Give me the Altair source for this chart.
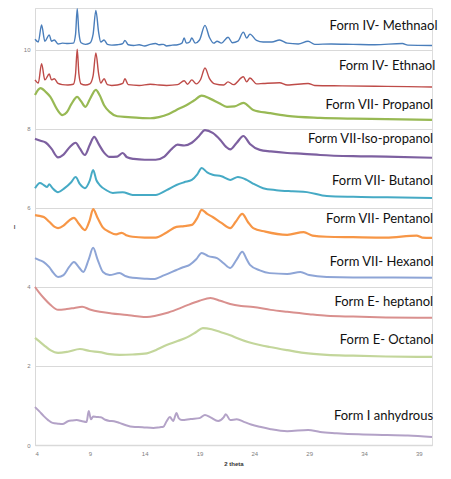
import altair as alt
import pandas as pd

# ---------------- data ----------------
meth_x = [4.0, 4.3, 4.6, 4.9, 5.3, 5.5, 5.76, 6.1, 6.5, 7.0, 7.5, 7.7, 7.85, 8.0, 8.2, 8.6, 9.0, 9.3, 9.55, 9.8,
          10.0, 10.3, 10.6, 11.0, 11.5, 12.0, 12.2, 12.5, 13.0, 13.5, 14.0, 14.5, 15.0, 15.3, 15.7, 16.0, 16.5,
          17.0, 17.4, 17.6, 17.8, 18.1, 18.3, 18.6, 19.0, 19.5, 19.9, 20.3, 20.6, 21.0, 21.6, 22.0, 22.5, 23.0,
          23.3, 23.6, 24.2, 24.8, 25.6, 26.3, 27.0, 28.0, 28.9, 29.5, 31.0, 33.0, 35.0, 37.5, 38.0, 40.2]
meth_y = [10.27, 10.2, 10.63, 10.22, 10.38, 10.22, 10.25, 10.15, 10.17, 10.16, 10.17, 10.4, 11.04, 10.45, 10.18,
          10.14, 10.17, 10.4, 11.0, 10.45, 10.2, 10.25, 10.14, 10.12, 10.13, 10.16, 10.24, 10.13, 10.11, 10.13,
          10.1, 10.14, 10.16, 10.13, 10.14, 10.1, 10.12, 10.13, 10.17, 10.3, 10.17, 10.2, 10.3, 10.17, 10.25,
          10.62, 10.32, 10.17, 10.22, 10.17, 10.32, 10.18, 10.22, 10.45, 10.3, 10.4, 10.24, 10.2, 10.2, 10.25,
          10.17, 10.15, 10.22, 10.14, 10.15, 10.14, 10.13, 10.16, 10.12, 10.11]

eth_x = [4.0, 4.3, 4.6, 4.9, 5.3, 5.5, 5.76, 6.1, 6.5, 7.0, 7.5, 7.7, 7.85, 8.0, 8.2, 8.6, 9.0, 9.3, 9.55, 9.8,
         10.0, 10.3, 10.6, 11.0, 11.5, 12.0, 12.2, 12.5, 13.5, 14.5, 15.0, 16.0, 17.0, 17.6, 17.9, 18.3, 18.7,
         19.1, 19.5, 19.9, 20.4, 21.2, 21.6, 22.1, 23.0, 23.3, 23.6, 24.2, 24.8, 26.3, 27.0, 28.9, 29.5, 32.0,
         35.0, 38.0, 40.2]
eth_y = [9.24, 9.16, 9.65, 9.24, 9.39, 9.24, 9.27, 9.15, 9.12, 9.11, 9.13, 9.4, 10.02, 9.4, 9.14, 9.11, 9.14, 9.35,
         9.92, 9.4, 9.16, 9.27, 9.12, 9.1, 9.11, 9.15, 9.27, 9.12, 9.1, 9.13, 9.12, 9.1, 9.12, 9.22, 9.13, 9.24,
         9.14, 9.25, 9.54, 9.28, 9.14, 9.11, 9.19, 9.12, 9.32, 9.19, 9.29, 9.14, 9.15, 9.17, 9.11, 9.15, 9.1,
         9.09, 9.08, 9.07, 9.06]

prop_x = [4.0, 4.5, 5.0, 5.4, 6.0, 6.5, 6.9, 7.3, 7.85, 8.2, 8.6, 9.0, 9.55, 9.9, 10.3, 10.8, 11.5, 12.5, 13.5, 14.5,
          15.3, 16.2, 16.9, 17.8, 18.5, 19.2, 20.0, 20.8, 21.5, 22.2, 23.0, 23.9, 25.4, 27.0, 30.0, 33.0, 36.0, 40.2]
prop_y = [8.86, 9.03, 8.93, 8.81, 8.5, 8.35, 8.42, 8.62, 8.81, 8.7, 8.56, 8.75, 8.99, 8.85, 8.6, 8.43, 8.32, 8.3,
          8.28, 8.27, 8.3, 8.38, 8.48, 8.6, 8.72, 8.84, 8.76, 8.65, 8.56, 8.57, 8.66, 8.48, 8.4, 8.33, 8.28, 8.26,
          8.25, 8.23]

iso_x = [4.0, 4.5, 5.0, 5.5, 6.1, 6.6, 7.2, 7.7, 8.1, 8.55, 9.0, 9.4, 9.8, 10.3, 10.8, 11.5, 12.0, 12.4, 13.0, 14.0,
         15.0, 15.8, 16.5, 17.0, 17.6, 18.3, 18.9, 19.5, 20.2, 20.9, 21.4, 21.8, 22.4, 23.0, 23.6, 24.5, 25.5, 27.0,
         28.5, 30.0, 33.0, 36.0, 40.2]
iso_y = [7.75, 7.7, 7.65, 7.5, 7.28, 7.35, 7.55, 7.65, 7.5, 7.34, 7.6, 7.8, 7.62, 7.4, 7.29, 7.3, 7.39, 7.28, 7.24,
         7.22, 7.22, 7.3, 7.5, 7.6, 7.58, 7.65, 7.8, 7.97, 7.9, 7.72, 7.55, 7.48, 7.65, 7.82, 7.62, 7.47, 7.43,
         7.39, 7.37, 7.34, 7.31, 7.3, 7.27]

but_x = [4.0, 4.45, 4.8, 5.1, 5.3, 5.6, 6.1, 6.7, 7.3, 7.7, 8.1, 8.55, 9.0, 9.3, 9.6, 9.9, 10.5, 11.1, 12.0, 12.9,
         14.0, 15.0, 16.0, 16.9, 17.6, 18.3, 18.8, 19.2, 19.7, 20.2, 21.0, 21.8, 22.5, 23.3, 24.0, 24.8, 26.0,
         27.5, 28.8, 30.6, 33.0, 36.0, 40.2]
but_y = [6.5, 6.63, 6.58, 6.53, 6.6, 6.5, 6.4, 6.5, 6.65, 6.78, 6.6, 6.5, 6.7, 6.96, 6.7, 6.58, 6.45, 6.38, 6.4,
         6.33, 6.33, 6.33, 6.45, 6.58, 6.65, 6.71, 6.85, 7.01, 6.9, 6.84, 6.8, 6.71, 6.78, 6.71, 6.6, 6.5, 6.45,
         6.42, 6.4, 6.3, 6.28, 6.27, 6.25]

pent_x = [4.0, 4.4, 4.8, 5.3, 5.8, 6.1, 6.6, 7.1, 7.55, 8.0, 8.55, 9.0, 9.3, 9.7, 10.2, 10.8, 11.4, 11.9, 12.4,
          12.9, 14.0, 15.0, 16.0, 16.9, 17.6, 18.3, 18.8, 19.2, 19.7, 20.2, 21.0, 21.8, 22.3, 22.9, 23.4, 23.9,
          25.0, 27.0, 28.5, 29.3, 30.6, 33.0, 36.0, 38.8, 39.3, 40.2]
pent_y = [5.82, 5.8, 5.77, 5.65, 5.52, 5.49, 5.55, 5.68, 5.75, 5.6, 5.44, 5.7, 5.97, 5.75, 5.5, 5.39, 5.33, 5.37,
          5.3, 5.27, 5.25, 5.25, 5.38, 5.52, 5.54, 5.57, 5.75, 5.95, 5.85, 5.77, 5.62, 5.49, 5.65, 5.85, 5.65,
          5.49, 5.4, 5.32, 5.39, 5.3, 5.27, 5.26, 5.25, 5.3, 5.25, 5.24]

hex_x = [4.0, 4.4, 4.8, 5.3, 5.7, 6.1, 6.6, 7.1, 7.55, 8.0, 8.4, 8.9, 9.3, 9.7, 10.2, 10.8, 11.7, 12.3, 12.9, 14.0,
         14.8, 15.8, 16.9, 17.5, 18.1, 18.7, 19.2, 19.8, 20.6, 21.2, 21.8, 22.4, 22.9, 23.3, 23.6, 24.5, 25.4,
         27.0, 28.2, 29.0, 30.6, 33.0, 36.0, 40.2]
hex_y = [4.73, 4.68, 4.63, 4.5, 4.35, 4.25, 4.3, 4.5, 4.63, 4.5, 4.38, 4.7, 4.99, 4.7, 4.38, 4.3, 4.35, 4.27, 4.23,
         4.21, 4.2, 4.3, 4.43, 4.5, 4.56, 4.7, 4.86, 4.78, 4.73, 4.6, 4.48, 4.7, 4.89, 4.7, 4.56, 4.42, 4.35,
         4.33, 4.38, 4.3, 4.25, 4.24, 4.24, 4.23]

hept_x = [4.0, 4.4, 4.8, 5.4, 6.1, 6.9, 7.6, 8.3, 9.0, 9.9, 11.0, 12.4, 13.3, 14.2, 15.0, 16.0, 17.0, 17.9, 19.0,
          20.0, 20.9, 21.8, 22.8, 23.9, 25.5, 27.0, 29.0, 30.6, 33.0, 36.0, 40.2]
hept_y = [4.0, 3.85, 3.72, 3.55, 3.42, 3.44, 3.47, 3.5, 3.43, 3.37, 3.33, 3.29, 3.26, 3.24, 3.27, 3.34, 3.44,
          3.54, 3.65, 3.72, 3.65, 3.57, 3.52, 3.49, 3.42, 3.37, 3.31, 3.27, 3.25, 3.23, 3.22]

oct_x = [4.0, 4.4, 4.8, 5.4, 6.1, 7.0, 8.1, 9.0, 9.9, 10.8, 11.7, 12.9, 14.2, 15.0, 16.0, 17.0, 17.9, 18.7, 19.3,
         20.1, 20.9, 21.8, 22.4, 23.5, 24.5, 25.4, 27.0, 28.5, 30.6, 33.0, 36.0, 40.2]
oct_y = [2.71, 2.62, 2.53, 2.4, 2.33, 2.36, 2.43, 2.38, 2.35, 2.3, 2.28, 2.29, 2.32, 2.4, 2.53, 2.63, 2.73, 2.86,
         2.96, 2.93, 2.86, 2.78, 2.71, 2.6, 2.53, 2.48, 2.4, 2.33, 2.28, 2.26, 2.24, 2.23]

anh_x = [4.0, 4.4, 4.8, 5.2, 5.6, 6.1, 6.5, 7.0, 7.4, 7.8, 8.3, 8.7, 8.9, 9.1, 9.3, 9.6, 10.0, 10.4, 10.8, 11.2,
         11.7, 12.3, 12.9, 13.8, 14.8, 15.4, 15.7, 16.0, 16.3, 16.6, 16.9, 17.1, 17.4, 18.2, 19.0, 19.5, 20.0,
         20.7, 21.2, 21.4, 21.8, 22.4, 23.1, 23.7, 24.5, 25.5, 27.0, 28.9, 30.0, 31.5, 33.5, 36.1, 38.0, 40.2]
anh_y = [0.96, 0.85, 0.73, 0.63, 0.56, 0.54, 0.53, 0.6, 0.62, 0.63, 0.6, 0.58, 0.86, 0.65, 0.72, 0.71, 0.7, 0.64,
         0.61, 0.6, 0.56, 0.5, 0.46, 0.45, 0.43, 0.45, 0.46, 0.6, 0.71, 0.61, 0.81, 0.68, 0.63, 0.66, 0.68, 0.76,
         0.7, 0.61, 0.7, 0.78, 0.63, 0.65, 0.58, 0.52, 0.46, 0.4, 0.35, 0.38, 0.33, 0.3, 0.27, 0.25, 0.24, 0.2]

names = ["Form IV- Methnaol", "Form IV- Ethnaol", "Form VII- Propanol", "Form VII-Iso-propanol",
         "Form VII- Butanol", "Form VII- Pentanol", "Form VII- Hexanol", "Form E- heptanol",
         "Form E- Octanol", "Form I anhydrous"]
colors = ["#4a7ebb", "#be4b48", "#98b954", "#7d60a0", "#46aac5", "#f79646", "#8ea5d6", "#d9908e",
          "#c3d69b", "#b3a2c7"]
widths = [1.4, 1.4, 2.2, 2.2, 2.0, 2.2, 2.0, 2.0, 2.2, 2.0]
series_x = [meth_x, eth_x, prop_x, iso_x, but_x, pent_x, hex_x, hept_x, oct_x, anh_x]
series_y = [meth_y, eth_y, prop_y, iso_y, but_y, pent_y, hex_y, hept_y, oct_y, anh_y]

label_x = [40.7, 40.5, 40.3, 40.3, 40.3, 40.3, 40.35, 40.3, 40.35, 40.3]
label_y = [10.61, 9.6, 8.61, 7.75, 6.68, 5.72, 4.63, 3.62, 2.66, 0.73]

x_ticks = [4, 9, 14, 19, 24, 29, 34, 39]
y_ticks = [0, 2, 4, 6, 8, 10]

rows = []
for n, w, xs, ys in zip(names, widths, series_x, series_y):
    for xv, yv in zip(xs, ys):
        rows.append({"series": n, "x": xv, "y": yv, "w": w})
df = pd.DataFrame(rows)
labels = pd.DataFrame({"series": names, "x": label_x, "y": label_y})

W, H = 397, 437
xscale = alt.Scale(domain=[4, 40.2], nice=False, zero=False)
yscale = alt.Scale(domain=[0, 11.06], nice=False)

lines = alt.Chart(df).mark_line(interpolate="monotone", clip=False).encode(
    x=alt.X("x:Q", scale=xscale, axis=alt.Axis(
        values=x_ticks, grid=False, ticks=False, domainColor="#d9d9d9", domainWidth=1.5,
        labelFontSize=6, labelColor="#808080", labelPadding=5, title="2 theta",
        titleFontSize=6, titleFontWeight="bold", titleColor="#333333", titlePadding=4)),
    y=alt.Y("y:Q", scale=yscale, axis=alt.Axis(
        values=y_ticks, grid=True, gridColor="#d9d9d9", gridWidth=1, ticks=False,
        domainColor="#d9d9d9", domainWidth=1, labelFontSize=6, labelColor="#808080", labelPadding=5,
        title="I", titleAngle=0, titleFontSize=6, titleColor="#555555", titleAlign="center",
        titleBaseline="middle", titleX=-21, titleY=H / 2)),
    color=alt.Color("series:N", scale=alt.Scale(domain=names, range=colors), legend=None),
    strokeWidth=alt.StrokeWidth("w:Q", scale=None),
    detail="series:N",
)

texts = alt.Chart(labels).mark_text(align="right", baseline="middle", font="Lato", fontSize=13,
                                     color="#111111").encode(
    x=alt.X("x:Q", scale=xscale),
    y=alt.Y("y:Q", scale=yscale),
    text="series:N",
)

chart = alt.layer(lines, texts).properties(
    width=W, height=H,
    autosize=alt.AutoSizeParams(type="none"),
    padding={"left": 27, "top": 0, "right": 11, "bottom": 26},
).configure_view(stroke=None).configure(background="white")

chart.save("out.html", embed_options={"renderer": "svg", "actions": False})
